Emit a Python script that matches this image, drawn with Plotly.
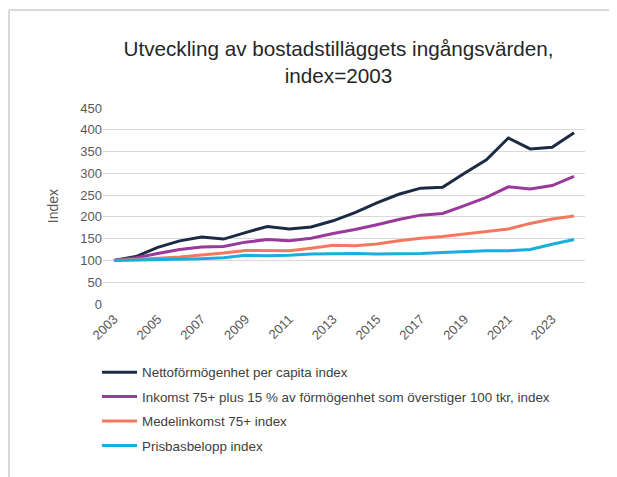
import plotly.graph_objects as go

years = list(range(2003, 2025))

netto = [100, 109, 130, 145, 154, 149, 164, 178, 172, 177, 191,
         210, 232, 252, 266, 268, 300, 331, 381, 356, 360, 393]
inkomst_formogenhet = [100, 106, 116, 125, 131, 132, 142, 148, 145, 151, 162,
                       171, 182, 194, 204, 208, 226, 245, 269, 264, 272, 293]
medelinkomst = [100, 102, 105, 108, 112, 117, 123, 122, 122, 128, 135,
                134, 138, 145, 151, 155, 161, 167, 172, 185, 195, 202]
prisbasbelopp = [100, 101, 101, 103, 104, 106, 112, 111, 112, 115, 116,
                 116, 115, 115, 116, 118, 120, 122, 122, 125, 137, 148]

series = [
    ('Nettoförmögenhet per capita index', netto, '#1c2b45'),
    ('Inkomst 75+ plus 15 % av förmögenhet som överstiger 100 tkr, index', inkomst_formogenhet, '#99399a'),
    ('Medelinkomst 75+ index', medelinkomst, '#f2795f'),
    ('Prisbasbelopp index', prisbasbelopp, '#18aedd'),
]

fig = go.Figure()

for i, (name, vals, color) in enumerate(series):
    fig.add_trace(
        go.Scatter(
            name=name,
            x=years,
            y=vals,
            mode='lines',
            legendgroup=str(i),
            line=dict(color=color, width=3)))

# page body adds an 8px offset, margins are shifted to compensate
fig.update_layout(
    width=617,
    height=477,
    margin=dict(l=95, r=40, t=100, b=181, autoexpand=False),
    plot_bgcolor='white',
    paper_bgcolor='white',
    font=dict(family='Liberation Sans, Arial, sans-serif', color='#595959', size=13),
    title=dict(
        text='Utveckling av bostadstilläggets ingångsvärden,<br>index=2003',
        x=0.5357, xanchor='center', y=0.8987, yanchor='middle',
        font=dict(size=20.7, color='#262626')),
    showlegend=True,
    legend=dict(
        x=-0.0124, xanchor='left', y=-0.270, yanchor='top',
        tracegroupgap=4,
        itemwidth=35,
        font=dict(size=13.4, color='#404040')),
    xaxis=dict(
        range=[2002.5, 2024.5],
        tickmode='array',
        tickvals=years[::2],
        ticktext=[str(y) for y in years[::2]],
        tickangle=-45,
        ticklabelstandoff=4,
        showgrid=False,
        zeroline=False,
        showline=False,
        ticks=''),
    yaxis=dict(
        range=[0, 450],
        dtick=50,
        showgrid=True,
        gridcolor='#d9d9d9',
        gridwidth=1,
        zeroline=False,
        title=dict(text='Index', standoff=18, font=dict(size=14, color='#595959'))),
    shapes=[
        # chart frame: only top and left edges are visible in the reference
        dict(type='line', xref='paper', yref='paper',
             x0=-0.195, x1=1.2, y0=1.5, y1=1.5,
             line=dict(color='#d9d9d9', width=2), layer='below'),
        dict(type='line', xref='paper', yref='paper',
             x0=-0.195, x1=-0.195, y0=-1.0, y1=1.5,
             line=dict(color='#d9d9d9', width=2), layer='below'),
    ])

fig.write_html("out.html")
